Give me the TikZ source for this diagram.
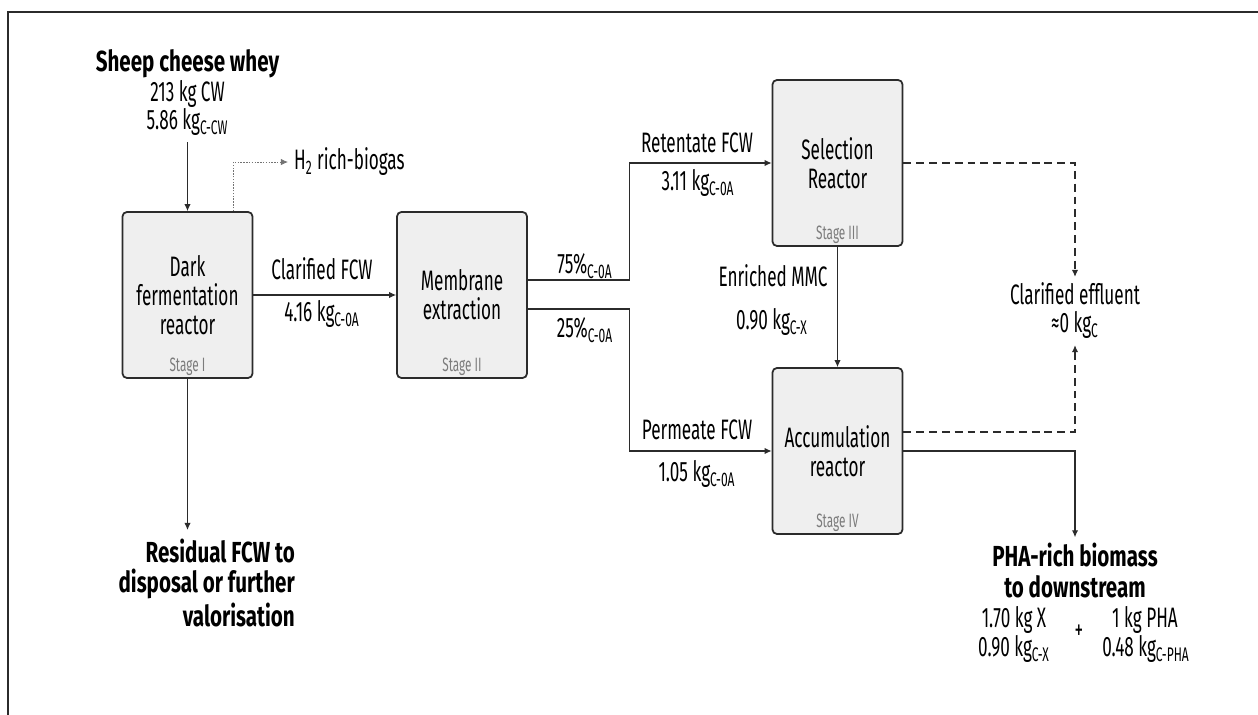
\documentclass[tikz,border=0pt]{standalone}
\usepackage{fontspec}
\setmainfont{Fira Sans}[FakeStretch=0.61]
\newfontfamily\headfont{Fira Sans}[FakeStretch=0.71]
\usepackage{xcolor}
\usetikzlibrary{positioning, arrows.meta}

\definecolor{boxfill}{HTML}{EFEFEF}
\definecolor{linecol}{HTML}{2B2B2B}
\definecolor{stagecol}{HTML}{7C7C7C}

\begin{document}
\begin{tikzpicture}[x=0.02cm, y=-0.02cm,
    font=\fontsize{16}{16.4}\selectfont,
    block/.style={rectangle, draw=linecol, line width=1pt, rounded corners=2.5pt,
    fill=boxfill, minimum width=2.6cm, minimum height=3.32cm, align=center, inner sep=2pt},
    stage/.style={font=\fontsize{11}{12}\selectfont, text=stagecol, anchor=base},
    lbl/.style={anchor=base},
    head/.style={anchor=base, font=\fontsize{16.5}{17}\headfont\bfseries},
    arrow/.style={-{Latex[length=4pt,width=3.6pt]}, draw=linecol, line width=0.6pt},
    dasharrow/.style={arrow, dash pattern=on 4.5pt off 2.8pt},
    dotarrow/.style={arrow, draw=black!55, line width=0.45pt, dash pattern=on 0.8pt off 0.8pt},
    frame/.style={draw=linecol, line width=1.1pt}
]

\useasboundingbox (0,0) rectangle (1258,715);
\draw[frame] (8,715) -- (8,12) -- (1258,12);

\node[block] (dark) at (187.5,295) {Dark\\fermentation\\reactor};
\node[block] (memb) at (462,295) {Membrane\\extraction};
\node[block] (sel) at (837.5,163) {Selection\\Reactor};
\node[block] (accum) at (837.5,451) {Accumulation\\reactor};

\node[stage] (stI) at ([yshift=4pt]dark.south) {Stage I};
\node[stage] (stII) at ([yshift=4pt]memb.south) {Stage II};
\node[stage] (stIII) at ([yshift=4pt]sel.south) {Stage III};
\node[stage] (stIV) at ([yshift=4pt]accum.south) {Stage IV};

\node[head] (whey) at (187.5,72) {Sheep cheese whey};
\node[lbl] (cw1) at (187.5,102) {213 kg CW};
\node[lbl] (cw2) at (187.5,130) {5.86 kg\textsubscript{C-CW}};
\node[lbl, anchor=base west] (biogas) at (288,170) {H\textsubscript{2} rich-biogas};

\node[lbl] (clar) at (322,280) {Clarified FCW};
\node[lbl] (clarkg) at (322,322) {4.16 kg\textsubscript{C-0A}};
\node[lbl] (retpc) at (585,274) {75\%\textsubscript{C-0A}};
\node[lbl] (permpc) at (585,338) {25\%\textsubscript{C-0A}};
\node[lbl] (ret) at (697,153) {Retentate FCW};
\node[lbl] (retkg) at (698,191) {3.11 kg\textsubscript{C-0A}};
\node[lbl] (mmc) at (773,287) {Enriched MMC};
\node[lbl] (mmckg) at (772,330) {0.90 kg\textsubscript{C-X}};
\node[lbl] (perm) at (697,440) {Permeate FCW};
\node[lbl] (permkg) at (697,482) {1.05 kg\textsubscript{C-0A}};

\node[lbl] (effl) at (1075,305) {Clarified effluent};
\node[lbl] (effkg) at (1075,333) {≈0 kg\textsubscript{C}};

\node[head] (pha1) at (1075,567) {PHA-rich biomass};
\node[head] (pha2) at (1075,598) {to downstream};
\node[lbl] (xkg) at (1014,628) {1.70 kg X};
\node[lbl] (xkgc) at (1014,657) {0.90 kg\textsubscript{C-X}};
\node (plus) at (1079,632) {+};
\node[lbl] (phakg) at (1145,628) {1 kg PHA};
\node[lbl] (phakgc) at (1146,657) {0.48 kg\textsubscript{C-PHA}};

\node[head, anchor=base east] (res1) at (301,563) {Residual FCW to};
\node[head, anchor=base east] (res2) at (301,593) {disposal or further};
\node[head, anchor=base east] (res3) at (301,627) {valorisation};
\coordinate (restop) at (187.5,530);

\draw[arrow] (cw2) -- (dark);
\draw[dotarrow] ([xshift=-0.4cm]dark.north east) |- (biogas);
\draw[arrow] (dark) -- (memb);
\draw[arrow] ([yshift=0.3cm]memb.east) -- ++(102,0) |- (sel);
\draw[arrow] ([yshift=-0.28cm]memb.east) -- ++(102,0) |- (accum);
\draw[arrow] (sel) -- (accum);
\draw[dasharrow] (sel) -| (effl);
\draw[dasharrow] ([yshift=0.38cm]accum.east) -| (effkg);
\draw[arrow] (accum) -| (pha1);
\draw[arrow] (dark) -- (restop);

\end{tikzpicture}
\end{document}
